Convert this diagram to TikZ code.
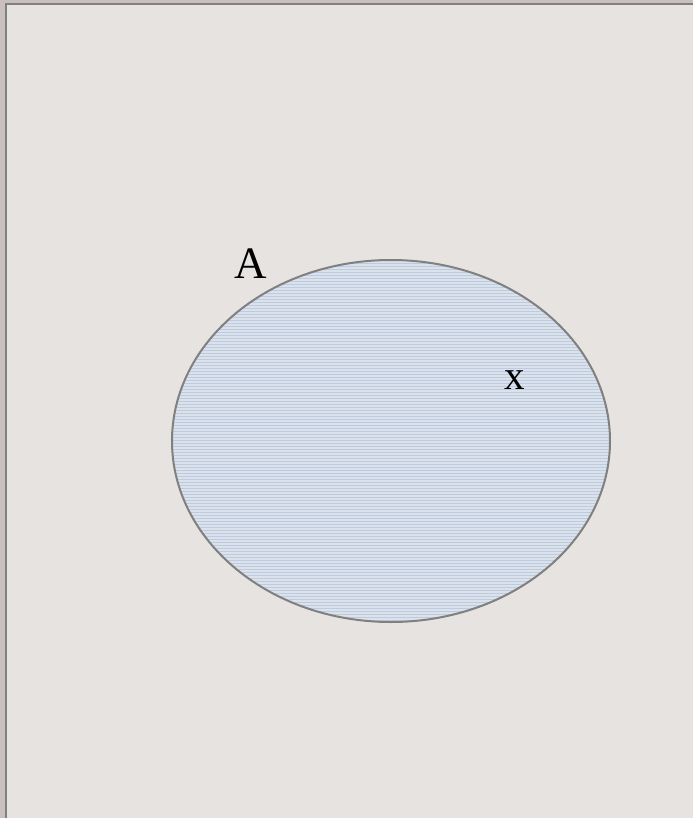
\documentclass[tikz,border=0pt]{standalone}
\usepackage{fontspec}
\setmainfont{Liberation Serif}
\usetikzlibrary{shapes.geometric}
\definecolor{bgc}{HTML}{E6E3E0}
\definecolor{outc}{HTML}{C9BFBF}
\definecolor{edgec}{HTML}{808080}
\definecolor{fillc}{HTML}{BCCBE2}
\definecolor{stripec}{HTML}{DCE2EA}
\begin{document}
\begin{tikzpicture}[x=1pt,y=-1pt,
  lbl/.style={inner sep=0pt,anchor=center,text=black}]
\useasboundingbox (0,0) rectangle (693,818);
\fill[outc] (0,0) rectangle (693,818);
\fill[bgc] (6,4) rectangle (693,818);
\draw[edgec,line width=2.6pt] (6,818) -- (6,4) -- (693,4);
\begin{scope}
  \clip (391,441) ellipse [x radius=219, y radius=181];
  \fill[fillc] (172,260) rectangle (610,622);
  \foreach \y in {262,265,...,622} {
    \draw[stripec,line width=1.2pt] (170,\y) -- (612,\y);
  }
\end{scope}
\node[draw=edgec,line width=2pt,ellipse,minimum width=438pt,minimum height=362pt,inner sep=0pt] (A) at (391,441) {};
\node[lbl,font=\fontsize{45}{45}\selectfont] (labelA) at (251,264) {A};
\node[lbl,font=\fontsize{41}{41}\selectfont] (x) at (515,380) {x};
\end{tikzpicture}
\end{document}
